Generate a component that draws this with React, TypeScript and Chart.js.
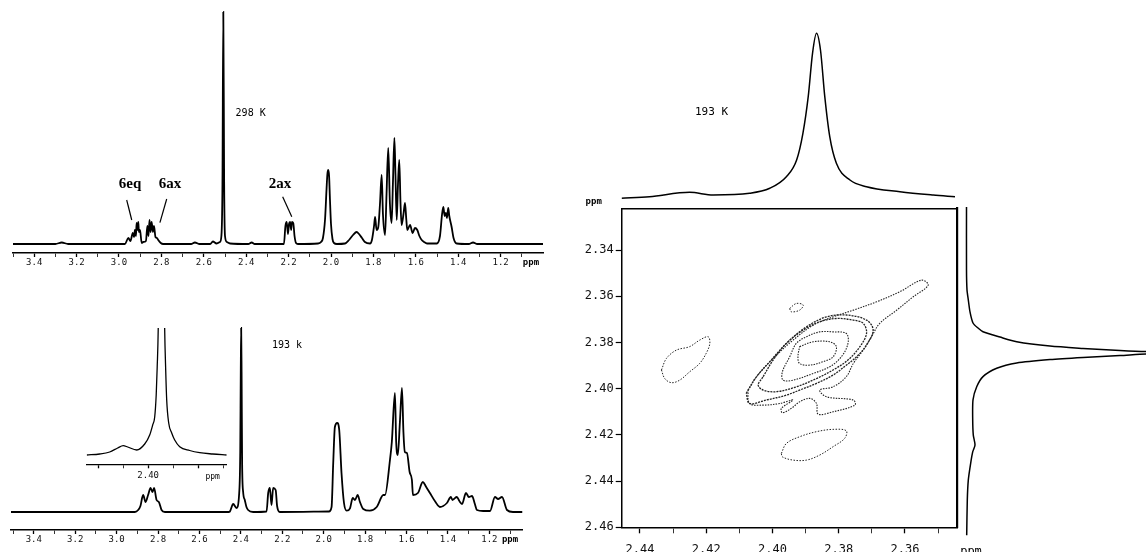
import React, { useEffect, useRef } from "react";
import { Chart, registerables } from "chart.js";
Chart.register(...registerables);

const MONO = '"DejaVu Sans Mono", "Liberation Mono", monospace';
const SERIF = '"Liberation Serif", "DejaVu Serif", serif';

// ---------------- 298 K spectrum (ppm, intensity) ----------------
const spectrum298: number[][] = [
  [3.5, 0], [3.3, 0], [3.27, 1.5], [3.24, 0], [2.98, 0],
  [2.972, 0], [2.956, 6], [2.946, 3], [2.935, 11], [2.929, 7], [2.925, 14], [2.92, 8], [2.917, 21], [2.913, 14], [2.909, 22], [2.906, 12], [2.901, 14], [2.893, 1], [2.885, 2],
  [2.873, 3], [2.866, 18], [2.861, 8], [2.856, 24], [2.851, 12], [2.846, 22], [2.84, 12], [2.835, 18], [2.828, 7], [2.821, 6], [2.815, 4], [2.803, 1], [2.792, 0],
  [2.66, 0], [2.642, 1.5], [2.62, 0], [2.57, 0], [2.557, 2.5], [2.54, 0.5],
  [2.524, 2], [2.517, 8], [2.512, 60], [2.508, 232], [2.504, 60], [2.5, 8], [2.491, 2], [2.476, 0.5],
  [2.39, 0], [2.374, 1.5], [2.36, 0],
  [2.222, 0], [2.215, 18], [2.209, 22], [2.203, 10], [2.198, 20], [2.193, 22], [2.188, 14], [2.184, 22], [2.178, 21], [2.172, 8], [2.165, 1], [2.156, 0],
  [2.061, 0.5], [2.047, 2], [2.038, 6], [2.028, 25], [2.021, 55], [2.017, 70], [2.013, 74], [2.009, 68], [2.005, 45], [2.0, 20], [1.993, 5], [1.986, 1], [1.972, 0],
  [1.934, 0.5], [1.915, 4], [1.896, 9], [1.879, 12], [1.868, 10], [1.854, 6], [1.84, 2], [1.816, 0.5],
  [1.807, 4], [1.797, 18], [1.792, 27], [1.785, 14], [1.777, 17], [1.769, 40], [1.761, 69], [1.755, 30], [1.745, 9], [1.738, 50], [1.73, 96], [1.722, 40], [1.714, 21], [1.708, 60], [1.701, 106], [1.696, 70], [1.69, 24], [1.684, 60], [1.678, 84], [1.672, 40], [1.667, 19], [1.658, 30], [1.651, 41], [1.645, 25], [1.64, 14], [1.627, 19], [1.615, 11], [1.604, 16], [1.593, 14], [1.583, 8], [1.572, 4], [1.561, 2], [1.547, 0.5],
  [1.501, 0.5], [1.486, 8], [1.476, 30], [1.47, 37], [1.464, 28], [1.458, 31], [1.453, 26], [1.447, 36], [1.442, 28], [1.431, 17], [1.422, 6], [1.407, 0.5],
  [1.35, 0], [1.33, 1.5], [1.31, 0], [1.0, 0],
];

// ---------------- 193 K spectrum ----------------
const spectrum193: number[][] = [
  [3.51, 0], [2.912, 0], [2.896, 2], [2.885, 6], [2.872, 17], [2.86, 10], [2.848, 17], [2.836, 24], [2.827, 20], [2.819, 24], [2.807, 12], [2.796, 10], [2.783, 2], [2.767, 0],
  [2.46, 0], [2.453, 0.5], [2.437, 8], [2.421, 4], [2.408, 19], [2.403, 60], [2.4005, 140], [2.3985, 184], [2.3965, 140], [2.394, 50], [2.389, 20], [2.381, 12], [2.373, 5], [2.365, 2], [2.341, 0],
  [2.276, 0.5], [2.268, 19], [2.26, 24], [2.252, 7], [2.244, 24], [2.232, 22], [2.225, 6], [2.212, 0],
  [1.975, 0.5], [1.962, 5], [1.954, 49], [1.946, 85], [1.935, 89], [1.925, 82], [1.914, 39], [1.902, 9], [1.889, 1.3],
  [1.873, 3.7], [1.86, 14], [1.849, 12], [1.836, 17], [1.825, 10], [1.809, 3], [1.777, 1.3], [1.744, 5], [1.712, 17],
  [1.704, 17], [1.68, 52], [1.671, 70], [1.656, 119], [1.65, 70], [1.642, 57], [1.632, 90], [1.622, 124], [1.615, 80], [1.608, 60], [1.598, 59], [1.585, 40], [1.574, 32], [1.569, 17], [1.545, 19], [1.521, 30], [1.505, 25], [1.487, 19], [1.46, 10], [1.439, 5],
  [1.405, 9], [1.386, 15], [1.378, 12], [1.371, 13], [1.357, 15], [1.345, 11], [1.332, 8], [1.313, 19], [1.299, 15], [1.284, 16], [1.27, 8], [1.26, 2], [1.23, 1], [1.197, 1],
  [1.173, 15], [1.158, 13], [1.139, 15], [1.115, 2], [1.086, 0], [1.04, 0],
];

// ---------------- inset (expanded 2.40 region) ----------------
const insetSpectrum: number[][] = [
  [2.4123, 0], [2.4097, 1], [2.4077, 3], [2.4061, 7], [2.405, 9.3], [2.4041, 8], [2.4023, 5], [2.4007, 11], [2.3997, 20], [2.3991, 30], [2.3987, 38], [2.3984, 60], [2.3982, 88], [2.398, 125],
  [2.3974, 400], [2.3967, 125], [2.3965, 85], [2.3963, 55], [2.3959, 32], [2.3953, 22], [2.3947, 15], [2.3937, 8.3], [2.3917, 4.5], [2.3897, 2.3], [2.3871, 1], [2.3843, 0],
];

// ---------------- 2D projections ----------------
const topProjection: number[][] = [
  [2.4456, 0.7], [2.4371, 2.3], [2.425, 6.7], [2.4179, 4], [2.4069, 5.7], [2.4008, 10.7], [2.3958, 22.3], [2.3927, 39], [2.3908, 65.7], [2.3892, 102.3], [2.3879, 145.7], [2.3867, 165.7],
  [2.3855, 149], [2.3842, 102.3], [2.3827, 62.3], [2.3807, 35.7], [2.3766, 19], [2.3716, 12.3], [2.3615, 7.3], [2.3515, 4], [2.3449, 2.3],
];
const rightProjection: number[][] = [
  [2.3214, 0.5], [2.3487, 0.5], [2.3573, 1], [2.3616, 2.3], [2.3668, 4], [2.3716, 7], [2.3738, 12], [2.3754, 17], [2.3777, 34], [2.3797, 50.7], [2.3816, 84], [2.3826, 117], [2.3835, 154], [2.384, 180],
  [2.3845, 230], [2.385, 180], [2.3857, 154], [2.3865, 117], [2.3874, 84], [2.3889, 50.7], [2.3912, 30.7], [2.3948, 17], [2.3992, 10.7], [2.4049, 7], [2.4136, 6.7], [2.4201, 7.3], [2.4244, 9],
  [2.4274, 6.7], [2.4322, 4.7], [2.4396, 2.3], [2.4482, 1.3], [2.4634, 0.7],
];

// ---------------- contours (F2 ppm, F1 ppm) ----------------
const contourLeft: number[][] = [
  [2.4335, 2.3919], [2.432, 2.3869], [2.429, 2.3833], [2.425, 2.3818], [2.422, 2.379], [2.4194, 2.3775], [2.4189, 2.3804], [2.42, 2.3847], [2.422, 2.3891], [2.425, 2.3927], [2.428, 2.3963], [2.4305, 2.3974], [2.4325, 2.3956], [2.4335, 2.3919],
];
const contourInner: number[][] = [
  [2.3918, 2.3818], [2.3877, 2.3797], [2.3827, 2.3797], [2.3807, 2.3818], [2.3817, 2.3862], [2.3847, 2.3883], [2.3887, 2.3898], [2.3918, 2.3891], [2.3923, 2.3862], [2.3918, 2.3818],
];
const contourSecond: number[][] = [
  [2.3948, 2.3862], [2.3928, 2.3804], [2.3897, 2.3775], [2.3857, 2.3754], [2.3817, 2.3754], [2.3777, 2.3761], [2.3772, 2.3804], [2.3792, 2.3862], [2.3827, 2.3905], [2.3877, 2.3934], [2.3938, 2.3963], [2.3968, 2.3963], [2.397, 2.3927], [2.3948, 2.3862],
];
const contourThird: number[][] = [
  [2.4028, 2.3948], [2.3998, 2.3876], [2.3958, 2.3804], [2.3907, 2.3746], [2.3857, 2.371], [2.3807, 2.3696], [2.3756, 2.3703], [2.3726, 2.3717], [2.3716, 2.3761], [2.3736, 2.3818], [2.3772, 2.3876], [2.3817, 2.3919], [2.3867, 2.3956], [2.3928, 2.3992], [2.3988, 2.4013], [2.4028, 2.4006], [2.4043, 2.3984], [2.4028, 2.3948],
];
const contourFourth: number[][] = [
  [2.4079, 2.402], [2.4048, 2.3948], [2.4008, 2.3883], [2.3958, 2.3804], [2.3897, 2.3732], [2.3837, 2.3689], [2.3777, 2.3681], [2.3716, 2.3703], [2.3696, 2.3746], [2.3716, 2.3811], [2.3746, 2.3862], [2.3777, 2.3898], [2.3817, 2.3941], [2.3867, 2.3977], [2.3918, 2.4006], [2.3958, 2.4028], [2.4018, 2.4049], [2.4069, 2.4064], [2.4079, 2.402],
];
const contourOuter: number[][] = [
  [2.4074, 2.4006], [2.4048, 2.3948], [2.3998, 2.3869], [2.3938, 2.379], [2.3877, 2.3725], [2.3817, 2.3689], [2.3756, 2.366], [2.3686, 2.3624], [2.3615, 2.358], [2.355, 2.353], [2.353, 2.3552], [2.3575, 2.3602], [2.3625, 2.366], [2.3676, 2.3717], [2.3701, 2.3775], [2.3726, 2.3833], [2.3756, 2.3891], [2.3777, 2.3948], [2.3817, 2.3992], [2.3857, 2.4006],
  [2.3837, 2.4035], [2.3756, 2.4049], [2.3751, 2.4071], [2.3817, 2.41], [2.3862, 2.411], [2.3867, 2.4064], [2.3887, 2.4042], [2.3918, 2.4057], [2.3943, 2.4085], [2.397, 2.4104], [2.3973, 2.4085], [2.3938, 2.4049], [2.3978, 2.4064], [2.4028, 2.4071], [2.4069, 2.4064], [2.4074, 2.4006],
];
const contourSmall: number[][] = [
  [2.3948, 2.3653], [2.3928, 2.3631], [2.3907, 2.3638], [2.3918, 2.366], [2.3943, 2.3667], [2.3948, 2.3653],
];
const contourLower: number[][] = [
  [2.3973, 2.428], [2.3958, 2.4237], [2.3918, 2.4208], [2.3867, 2.4186], [2.3817, 2.4176], [2.3777, 2.4182], [2.3782, 2.4215], [2.3817, 2.4251], [2.3857, 2.4287], [2.3897, 2.4309], [2.3938, 2.4309], [2.397, 2.4295], [2.3973, 2.428],
];

// ---------------- tick values and labels ----------------
const oneDMajorTicks = [3.4, 3.2, 3.0, 2.8, 2.6, 2.4, 2.2, 2.0, 1.8, 1.6, 1.4, 1.2];
const oneDMajorLabels = ["3.4", "3.2", "3.0", "2.8", "2.6", "2.4", "2.2", "2.0", "1.8", "1.6", "1.4", "1.2"];
const oneDMinorTicks = [3.5, 3.3, 3.1, 2.9, 2.7, 2.5, 2.3, 2.1, 1.9, 1.7, 1.5, 1.3, 1.1];
const insetMajorTicks = [2.41, 2.4, 2.39];
const insetMajorLabels = ["", "2.40", ""];
const insetMinorTicks = [2.405, 2.395, 2.385];
const f2MajorTicks = [2.44, 2.42, 2.4, 2.38, 2.36];
const f2MajorLabels = ["2.44", "2.42", "2.40", "2.38", "2.36"];
const f2MinorTicks = [2.43, 2.41, 2.39, 2.37, 2.35];
const f1Ticks = [2.34, 2.36, 2.38, 2.4, 2.42, 2.44, 2.46];
const f1Labels = ["2.34", "2.36", "2.38", "2.40", "2.42", "2.44", "2.46"];

// assignment leader lines (ppm, intensity) in the 298 K spectrum
const leader6eq: number[][] = [[2.9637, 44], [2.94, 24]];
const leader6ax: number[][] = [[2.775, 45], [2.807, 21.3]];
const leader2ax: number[][] = [[2.228, 47.3], [2.185, 27.3]];

const toXY = (arr: number[][]) => arr.map((p) => ({ x: p[0], y: p[1] }));
const toYX = (arr: number[][]) => arr.map((p) => ({ x: p[1], y: p[0] }));

const base: any = {
  responsive: false,
  maintainAspectRatio: false,
  animation: false,
  devicePixelRatio: 1,
  events: [],
  plugins: { legend: { display: false }, tooltip: { enabled: false } },
};

function labelFor(majors: number[], labels: string[]) {
  return (v: number) => {
    const i = majors.findIndex((m) => Math.abs(m - v) < 1e-7);
    return i >= 0 ? labels[i] : "";
  };
}

function ppmAxis(opts: any) {
  const { min, max, majors, labels, minors, height, font, tickLen, padding, position, borderWidth } = opts;
  return {
    type: "linear",
    position: position || "bottom",
    reverse: true,
    min,
    max,
    afterBuildTicks: (axis: any) => {
      axis.ticks = majors
        .map((v: number) => ({ value: v, minor: false }))
        .concat(minors.map((v: number) => ({ value: v, minor: true })));
    },
    afterFit: (axis: any) => {
      axis.height = height;
    },
    ticks: {
      autoSkip: false,
      maxRotation: 0,
      minRotation: 0,
      padding,
      color: "#111",
      font,
      callback: labelFor(majors, labels),
    },
    grid: {
      drawOnChartArea: false,
      drawTicks: true,
      tickLength: tickLen,
      color: "#000",
      tickColor: "#000",
      tickWidth: (c: any) => (c.tick && c.tick.minor ? 0.8 : 1.3),
    },
    border: { display: true, color: "#000", width: borderWidth || 1.6 },
  };
}

function textPlugin(items: any[]) {
  return {
    id: "texts",
    afterDatasetsDraw(chart: any) {
      const { ctx, scales, chartArea } = chart;
      ctx.save();
      for (const it of items) {
        const x = it.xv !== undefined ? scales[it.xs || "x"].getPixelForValue(it.xv) : chartArea.left + it.dx;
        const y = it.yv !== undefined ? scales[it.ys || "y"].getPixelForValue(it.yv) : chartArea.bottom + it.dy;
        ctx.font = it.font;
        ctx.fillStyle = "#000";
        ctx.textAlign = it.align || "center";
        ctx.textBaseline = "middle";
        ctx.fillText(it.text, x, y);
      }
      ctx.restore();
    },
  };
}

const specLine = (data: number[][], width = 1.7) => ({
  data: toXY(data),
  borderColor: "#000",
  borderWidth: width,
  pointRadius: 0,
  fill: false,
  cubicInterpolationMode: "monotone",
});

function ChartCanvas({ left, top, width, height, build }: any) {
  const ref = useRef<HTMLCanvasElement>(null);
  useEffect(() => {
    const c = new Chart(ref.current as HTMLCanvasElement, build());
    return () => c.destroy();
  }, []);
  return (
    <canvas
      ref={ref}
      width={width}
      height={height}
      style={{ position: "absolute", left, top, width, height, display: "block" }}
    />
  );
}

const tickFont1D = { family: MONO, size: 9 };

const buildTop = () => ({
  type: "line",
  data: {
    datasets: [
      specLine(spectrum298, 1.8),
      { ...specLine(leader6eq, 1.2), cubicInterpolationMode: "default", tension: 0 },
      { ...specLine(leader6ax, 1.2), cubicInterpolationMode: "default", tension: 0 },
      { ...specLine(leader2ax, 1.2), cubicInterpolationMode: "default", tension: 0 },
    ],
  },
  options: {
    ...base,
    layout: { padding: { left: 13, right: 17, top: 8, bottom: 0 } },
    scales: {
      x: ppmAxis({ min: 1.0, max: 3.5, majors: oneDMajorTicks, labels: oneDMajorLabels, minors: oneDMinorTicks, height: 20, font: tickFont1D, tickLen: 4, padding: 0 }),
      y: { display: false, min: -9, max: 236 },
    },
  },
  plugins: [
    textPlugin([
      { text: "6eq", xv: 2.948, yv: 60, font: `bold 15px ${SERIF}` },
      { text: "6ax", xv: 2.759, yv: 60, font: `bold 15px ${SERIF}` },
      { text: "2ax", xv: 2.241, yv: 60, font: `bold 15px ${SERIF}` },
      { text: "298 K", xv: 2.45, yv: 131, font: `10px ${MONO}`, align: "left" },
      { text: "ppm", xv: 1.057, dy: 9.5, font: `bold 9px ${MONO}` },
    ]),
  ],
});

const buildBottom = () => ({
  type: "line",
  data: { datasets: [specLine(spectrum193, 1.8)] },
  options: {
    ...base,
    layout: { padding: { left: 11, right: 37.5, top: 4, bottom: 0 } },
    scales: {
      x: ppmAxis({ min: 1.04, max: 3.51, majors: oneDMajorTicks, labels: oneDMajorLabels, minors: oneDMinorTicks, height: 22, font: tickFont1D, tickLen: 4, padding: 0 }),
      y: { display: false, min: -18, max: 232 },
    },
  },
  plugins: [
    textPlugin([
      { text: "193 k", xv: 2.25, yv: 167, font: `10px ${MONO}`, align: "left" },
      { text: "ppm", xv: 1.1, dy: 9.5, font: `bold 9px ${MONO}` },
    ]),
  ],
});

const buildInset = () => ({
  type: "line",
  data: { datasets: [specLine(insetSpectrum, 1.3)] },
  options: {
    ...base,
    layout: { padding: { left: 6.7, right: 13.3, top: 10, bottom: 0 } },
    scales: {
      x: ppmAxis({ min: 2.3843, max: 2.4123, majors: insetMajorTicks, labels: insetMajorLabels, minors: insetMinorTicks, height: 25.7, font: tickFont1D, tickLen: 4, padding: 2, borderWidth: 1.3 }),
      y: { display: false, min: -9.3, max: 127 },
    },
  },
  plugins: [textPlugin([{ text: "ppm", xv: 2.3871, dy: 12.5, font: `8px ${MONO}` }])],
});

const buildTopProjection = () => ({
  type: "line",
  data: { datasets: [{ ...specLine(topProjection, 1.5) }] },
  options: {
    ...base,
    layout: { padding: { left: 21.7, right: 22.7, top: 10, bottom: 3 } },
    scales: {
      x: { type: "linear", display: false, reverse: true, min: 2.3442, max: 2.4455 },
      y: { display: false, min: -6, max: 189 },
    },
  },
  plugins: [textPlugin([{ text: "193 K", xv: 2.4184, yv: 87, font: `11px ${MONO}` }])],
});

const contourSet = (data: number[][], width: number, dash: number[]) => ({
  data: toXY(data),
  showLine: true,
  borderColor: "#222",
  borderWidth: width,
  borderDash: dash,
  pointRadius: 0,
  fill: false,
  tension: 0.35,
  xAxisID: "x",
  yAxisID: "y",
});

const build2D = () => ({
  type: "scatter",
  data: {
    datasets: [
      contourSet(contourLeft, 1, [1.5, 1.5]),
      contourSet(contourInner, 1.1, [1.5, 1.2]),
      contourSet(contourSecond, 1.1, [1.5, 1.2]),
      contourSet(contourThird, 1.3, [2, 1]),
      contourSet(contourFourth, 1.3, [2, 1]),
      contourSet(contourOuter, 1.1, [1.5, 1.2]),
      contourSet(contourSmall, 1, [1.5, 1.5]),
      contourSet(contourLower, 1, [1.5, 1.5]),
    ],
  },
  options: {
    ...base,
    layout: { padding: { left: 0, right: 7.7, top: 18.3, bottom: 0 } },
    scales: {
      x: ppmAxis({ min: 2.3442, max: 2.4455, majors: f2MajorTicks, labels: f2MajorLabels, minors: f2MinorTicks, height: 24.7, font: { family: MONO, size: 12 }, tickLen: 6, padding: 9 }),
      y: {
        type: "linear",
        position: "left",
        reverse: true,
        min: 2.3219,
        max: 2.46,
        afterBuildTicks: (axis: any) => {
          axis.ticks = f1Ticks.map((v) => ({ value: v }));
        },
        afterFit: (axis: any) => {
          axis.width = 46.7;
        },
        ticks: { autoSkip: false, padding: 2, color: "#111", font: { family: MONO, size: 12 }, callback: labelFor(f1Ticks, f1Labels) },
        grid: { drawOnChartArea: false, drawTicks: true, tickLength: 6, color: "#000", tickColor: "#000", tickWidth: 1.2 },
        border: { display: true, color: "#000", width: 1.5 },
      },
      x2: {
        type: "linear",
        axis: "x",
        position: "top",
        afterFit: (axis: any) => {
          axis.height = 0;
        },
        ticks: { display: false },
        grid: { drawOnChartArea: false, drawTicks: false },
        border: { display: true, color: "#000", width: 1.5 },
      },
      y2: {
        type: "linear",
        axis: "y",
        position: "right",
        afterFit: (axis: any) => {
          axis.width = 0;
        },
        ticks: { display: false },
        grid: { drawOnChartArea: false, drawTicks: false },
        border: { display: true, color: "#000", width: 2.2 },
      },
    },
  },
  plugins: [
    {
      id: "ppmCorner",
      afterDraw(chart: any) {
        const { ctx, chartArea } = chart;
        ctx.save();
        ctx.font = `bold 9px ${MONO}`;
        ctx.fillStyle = "#000";
        ctx.textAlign = "center";
        ctx.textBaseline = "middle";
        ctx.fillText("ppm", chartArea.left - 28, chartArea.top - 7);
        ctx.restore();
      },
    },
  ],
});

const buildRightProjection = () => ({
  type: "scatter",
  data: {
    datasets: [
      {
        data: toYX(rightProjection),
        showLine: true,
        borderColor: "#000",
        borderWidth: 1.5,
        pointRadius: 0,
        fill: false,
        tension: 0.25,
      },
    ],
  },
  options: {
    ...base,
    layout: { padding: { left: 5, right: 0, top: 10, bottom: 12 } },
    scales: {
      x: { type: "linear", display: false, min: -4, max: 180 },
      y: { type: "linear", display: false, reverse: true, min: 2.3184, max: 2.4655 },
    },
  },
  plugins: [textPlugin([{ text: "ppm", dx: 9, dy: 12, font: `12px ${MONO}` }])],
});

export default function App() {
  useEffect(() => {
    document.body.style.margin = "0";
  }, []);
  return (
    <div style={{ position: "absolute", left: 0, top: 0, width: 1146, height: 552, overflow: "hidden", background: "#fff" }}>
      <ChartCanvas left={0} top={0} width={560} height={273} build={buildTop} />
      <ChartCanvas left={0} top={276} width={560} height={276} build={buildBottom} />
      <ChartCanvas left={80} top={318} width={160} height={172} build={buildInset} />
      <ChartCanvas left={600} top={0} width={380} height={208} build={buildTopProjection} />
      <ChartCanvas left={575} top={190} width={390} height={362} build={build2D} />
      <ChartCanvas left={957} top={190} width={189} height={362} build={buildRightProjection} />
    </div>
  );
}
